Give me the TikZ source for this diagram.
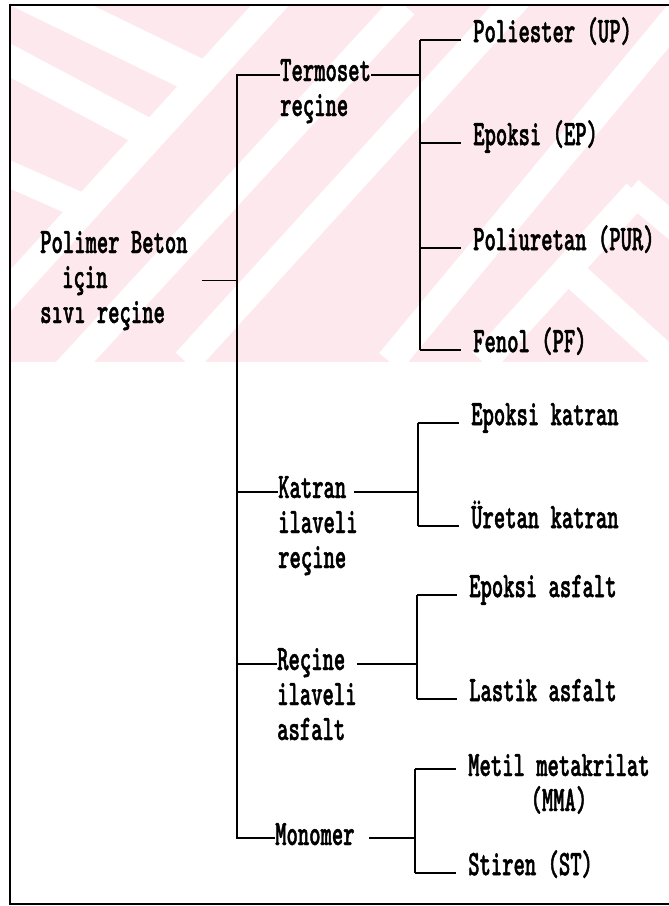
\documentclass[tikz,border=0pt]{standalone}
\usepackage{fontspec}
\newfontfamily\printfont{lmmonolt10-bold.otf}[FakeStretch=0.6, FakeBold=1.2]
\usetikzlibrary{positioning}
\definecolor{wmpink}{RGB}{253,233,237}

\begin{document}
\begin{tikzpicture}[
        x = 1pt, y = -1pt,
        every node/.style = {font=\printfont\fontsize{36}{35}\selectfont,
                             inner sep=0pt, align=left},
        line/.style = {draw, line width=1.3pt},
        leafline/.style = {line, shorten >=12pt},
        stripe/.style = {draw=white, line width=#1}
    ]
    \useasboundingbox (0,0) rectangle (669,906);

    % Watermark
    \begin{scope}
        \clip (10,5) rectangle (669,362);
        \fill[wmpink] (10,5) rectangle (669,362);
        \draw[stripe=28pt] (284,-10) -- (0,302);
        \draw[stripe=28pt] (404,5) -- (40,400);
        \draw[stripe=28pt] (520,-5) -- (186,362);
        \draw[stripe=28pt] (690,0) -- (390,362);
        \draw[stripe=28pt] (483,362) -- (637,193);
        \draw[stripe=36pt] (20,-10) -- (205,80);
        \draw[stripe=30pt] (0,55) -- (160,140);
        \draw[stripe=26pt] (0,170) -- (95,212);
        \draw[stripe=26pt] (630,190) -- (690,240);
        \draw[stripe=28pt] (560,262) -- (690,380);
    \end{scope}

    % Frame
    \draw[line] (669,5) -- (10,5) -- (10,904) -- (669,904);

    % Nodes
    \node[anchor=base west] (root) at (40,323) {Polimer Beton\\\hspace*{22pt}için\\sıvı reçine};
    \node[anchor=base west] (termoset) at (280,116) {Termoset\\reçine};
    \node[anchor=base west] (katran) at (278,568) {Katran\\ilaveli\\reçine};
    \node[anchor=base west] (asfalt) at (277,740) {Reçine\\ilaveli\\asfalt};
    \node[anchor=base west] (monomer) at (275,845) {Monomer};

    \node[anchor=mid west] (up) at (473,40) {Poliester (UP)};
    \node[anchor=mid west] (ep) at (473,143) {Epoksi (EP)};
    \node[anchor=mid west] (pur) at (473,248) {Poliuretan (PUR)};
    \node[anchor=mid west] (pf) at (473,350) {Fenol (PF)};
    \node[anchor=mid west] (ek) at (471,423) {Epoksi katran};
    \node[anchor=mid west] (uk) at (471,526) {Üretan katran};
    \node[anchor=mid west] (ea) at (469,595) {Epoksi asfalt};
    \node[anchor=mid west] (la) at (469,699) {Lastik asfalt};
    \node[anchor=base west, align=center] (mma) at (468,811) {Metil metakrilat\\(MMA)};
    \node[anchor=mid west] (st) at (468,873) {Stiren (ST)};

    % Junctions
    \coordinate (j1) at (237,75);
    \coordinate (j2) at (237,492);
    \coordinate (j3) at (237,664);
    \coordinate (j4) at (237,838);
    \coordinate (k1) at (420,75);
    \coordinate (k2) at (418,492);
    \coordinate (k3) at (417,664);
    \coordinate (k4) at (415,838);
    \coordinate (m1) at ([yshift=42pt]mma.base west);

    % Lines
    \draw[line] ([xshift=14pt]root.east) -- (root.east -| j1);
    \draw[line] (termoset.west |- j1) -- (j1) -- (j4) -- (monomer.west |- j4);
    \draw[line] (j2) -- (katran.west |- j2);
    \draw[line] (j3) -- (asfalt.west |- j3);

    \draw[line] (termoset.east |- j1) -- (k1);
    \draw[line] ([xshift=-4pt]katran.east |- j2) -- (k2);
    \draw[line] (asfalt.east |- j3) -- (k3);
    \draw[line] ([xshift=14pt]monomer.east |- j4) -- (k4);

    \draw[line] (k1 |- up.mid west) -- (k1 |- pf.mid west);
    \draw[line] (k2 |- ek.mid west) -- (k2 |- uk.mid west);
    \draw[line] (k3 |- ea.mid west) -- (k3 |- la.mid west);
    \draw[line] (k4 |- m1) -- (k4 |- st.mid west);

    \foreach \leaf in {up, ep, pur, pf}
        \draw[leafline] (k1 |- \leaf.mid west) -- (\leaf.mid west);
    \foreach \leaf in {ek, uk}
        \draw[leafline] (k2 |- \leaf.mid west) -- (\leaf.mid west);
    \foreach \leaf in {ea, la}
        \draw[leafline] (k3 |- \leaf.mid west) -- (\leaf.mid west);
    \draw[leafline] (k4 |- m1) -- (m1);
    \draw[leafline] (k4 |- st.mid west) -- (st.mid west);

\end{tikzpicture}
\end{document}
